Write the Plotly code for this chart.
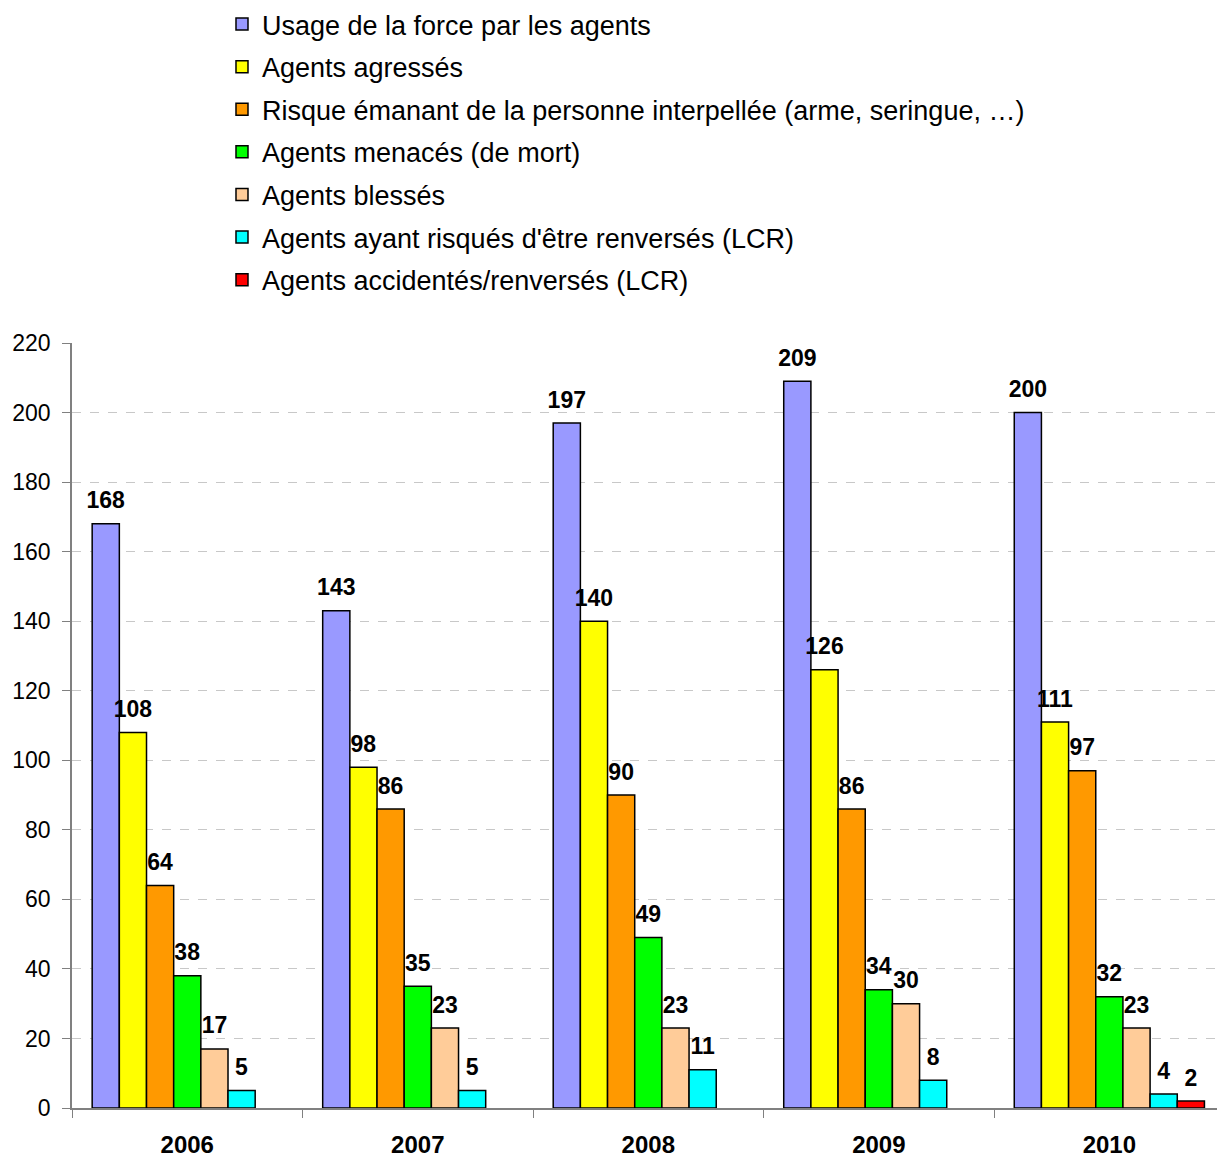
import plotly.graph_objects as go

years = ["2006", "2007", "2008", "2009", "2010"]

usage_force = [168, 143, 197, 209, 200]
agresses = [108, 98, 140, 126, 111]
risque = [64, 86, 90, 86, 97]
menaces = [38, 35, 49, 34, 32]
blesses = [17, 23, 23, 30, 23]
risque_renverses = [5, 5, 11, 8, 4]
accidentes = [None, None, None, None, 2]

series = [
    ("Usage de la force par les agents", usage_force, "#9999FF"),
    ("Agents agressés", agresses, "#FFFF00"),
    ("Risque émanant de la personne interpellée (arme, seringue, …)", risque, "#FF9900"),
    ("Agents menacés (de mort)", menaces, "#00FF00"),
    ("Agents blessés", blesses, "#FFCC99"),
    ("Agents ayant risqués d'être renversés (LCR)", risque_renverses, "#00FFFF"),
    ("Agents accidentés/renversés (LCR)", accidentes, "#FF0000"),
]

FONT = "Liberation Sans, Arial, sans-serif"

fig = go.Figure()
for i, (name, vals, color) in enumerate(series):
    fig.add_trace(go.Bar(
        x=years,
        y=vals,
        name=name,
        legendgroup=f"g{i}",
        marker=dict(color=color, line=dict(color="black", width=1.5)),
        # small base font + empty second line lifts the label a bit above the bar
        texttemplate="<span style='font-size:23px'><b>%{y}</b></span><br>&nbsp;",
        textposition="outside",
        textfont=dict(family=FONT, size=8, color="black"),
        constraintext="none",
        cliponaxis=False,
    ))

fig.update_layout(
    width=1217,
    height=1158,
    barmode="group",
    bargap=0.175,
    bargroupgap=0,
    plot_bgcolor="white",
    paper_bgcolor="white",
    font=dict(family=FONT, color="black"),
    margin=dict(l=72, r=0, t=342, b=50),
    legend=dict(
        x=0.131,
        y=1.449,
        xanchor="left",
        yanchor="top",
        font=dict(size=27, family=FONT),
        traceorder="grouped",
        tracegroupgap=4.5,
        bgcolor="rgba(0,0,0,0)",
    ),
    xaxis=dict(
        range=[-0.5, 4.467],
        automargin=False,
        showline=True,
        linecolor="#808080",
        linewidth=1.5,
        ticks="outside",
        tickson="boundaries",
        ticklen=8,
        tickcolor="#808080",
        tickfont=dict(size=24, family=FONT),
        tickprefix="<b>",
        ticksuffix="</b>",
        ticklabelstandoff=14,
    ),
    yaxis=dict(
        range=[0, 220],
        dtick=20,
        automargin=False,
        showline=True,
        linecolor="#808080",
        linewidth=1.5,
        ticks="outside",
        ticklen=8,
        tickcolor="#808080",
        showgrid=True,
        gridcolor="#C8C8C8",
        griddash="dash",
        gridwidth=1,
        zeroline=False,
        tickfont=dict(size=23, family=FONT),
        ticklabelstandoff=7,
    ),
)

fig.write_html(
    "out.html",
    config={"displayModeBar": False},
    post_script="document.body.style.margin='0';",
)
